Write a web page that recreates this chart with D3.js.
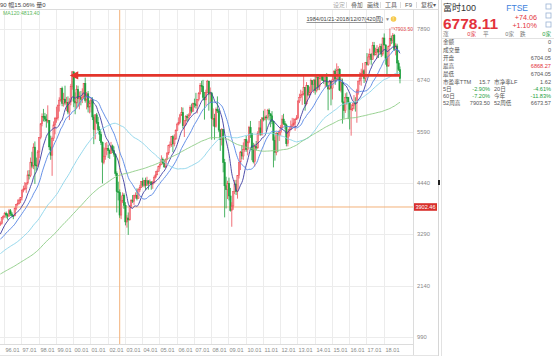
<!DOCTYPE html>
<html><head><meta charset="utf-8">
<script src="https://cdn.jsdelivr.net/npm/d3@7"></script>
<style>
body{margin:0;background:#fff}
svg{display:block}
text{font-family:Arial,"Liberation Sans","Noto Sans CJK SC",sans-serif}
</style></head>
<body><svg id="c" width="554" height="356"></svg>
<script>
// ---- DATA (monthly FTSE 100, Oct 1995 - Dec 2018) ----
// monthly closes before the visible window (Nov 1985 - Sep 1995), used for moving averages
const histClose = [
 1400,1413,
 1435,1544,1668,1660,1602,1649,1558,1641,1532,1594,1632,1679,
 1808,1979,1997,2049,2203,2248,2323,2250,2366,1750,1580,1713,
 1790,1769,1823,1854,1817,1858,1853,1746,1829,1852,1780,1793,
 2052,2002,2069,2119,2114,2151,2297,2387,2299,2142,2276,2423,
 2337,2255,2247,2103,2345,2375,2372,2163,1990,2050,2149,2144,
 2170,2380,2457,2487,2500,2415,2588,2646,2622,2566,2420,2493,
 2571,2562,2440,2655,2708,2522,2400,2313,2553,2658,2778,2847,
 2808,2868,2879,2814,2840,2900,2926,3100,3038,3171,3166,3418,
 3491,3328,3086,3125,2970,2919,3082,3251,3027,3097,3082,3066,
 2991,3009,3137,3216,3319,3315,3463,3477,3508
];
const firstMonth = "1995-10";
const openV = [
 3508,3529,3664,
 3689,3760,3727,3699,3818,3748,3711,3703,3867,3953,3979,4058,
 4119,4276,4308,4313,4437,4621,4604,4907,4818,5244,4842,4831,
 5136,5458,5767,5932,5928,5870,5833,5837,5249,5064,5438,5743,
 5883,5896,6175,6296,6552,6226,6319,6231,6246,6030,6255,6597,
 6930,6269,6233,6540,6327,6359,6313,6365,6672,6294,6438,6142,
 6223,6298,5918,5634,5967,5796,5643,5529,5345,4903,5040,5204,
 5217,5165,5101,5272,5165,5086,4656,4246,4227,3722,4039,4169,
 3940,3567,3656,3613,3926,4048,4031,4157,4161,4091,4287,4342,
 4477,4390,4492,4386,4489,4431,4464,4413,4459,4571,4624,4703,
 4814,4852,4968,4894,4801,4964,5113,5282,5296,5478,5317,5423,
 5619,5760,5792,5965,6023,5723,5833,5928,5906,5961,6129,6049,
 6221,6203,6172,6308,6449,6621,6608,6360,6303,6467,6722,6432,
 6457,5880,5884,5702,6087,6054,5626,5412,5637,4902,4377,4289,
 4434,4150,3830,3926,4244,4418,4249,4608,4909,5134,5045,5191,
 5413,5189,5355,5680,5553,5188,4917,5258,5225,5549,5675,5528,
 5900,5863,5919,5909,6070,5990,5946,5815,5395,5128,5544,5505,
 5572,5682,5872,5768,5738,5321,5571,5635,5711,5742,5783,5867,
 5898,6277,6361,6412,6430,6583,6215,6621,6413,6462,6731,6651,
 6749,6510,6810,6598,6780,6845,6744,6730,6820,6623,6546,6723,
 6566,6749,6947,6773,6961,6984,6521,6696,6248,6062,6361,6356,
 6242,6084,6097,6175,6242,6231,6504,6724,6782,6899,6954,6784,
 7143,7099,7263,7323,7204,7520,7313,7372,7431,7373,7493,7327,
 7688,7534,7232,7057,7509,7678,7637,7749,7432,7510,7128,6980
];
const highV = [
 3580,3680,3720,
 3790,3800,3760,3860,3857,3790,3730,3890,3970,4070,4090,4120,
 4300,4380,4460,4450,4720,4730,5010,5140,5330,5370,5010,5180,
 5460,5780,6000,6100,6010,5980,6180,5850,5500,5480,5820,5920,
 6150,6200,6360,6560,6600,6460,6620,6370,6380,6340,6660,6950,
 6940,6470,6630,6620,6490,6500,6560,6680,6800,6480,6500,6290,
 6340,6360,5970,5980,6010,5920,5710,5590,5370,5240,5340,5360,
 5300,5190,5360,5300,5260,5100,4700,4470,4297,4150,4230,4210,
 4010,3720,3780,3940,4080,4170,4180,4230,4320,4320,4400,4480,
 4560,4510,4560,4580,4500,4520,4480,4490,4610,4710,4740,4830,
 4890,5060,5010,4960,4990,5120,5300,5370,5490,5510,5530,5640,
 5790,5910,5990,6140,6130,5840,5960,5980,6000,6180,6220,6240,
 6330,6460,6310,6480,6680,6730,6750,6480,6530,6750,6730,6580,
 6480,6110,5990,6130,6380,6100,5650,5670,5650,4980,4580,4490,
 4560,4330,4010,4250,4510,4510,4610,4910,5160,5290,5350,5420,
 5500,5390,5720,5830,5560,5340,5320,5380,5600,5830,5870,5910,
 6060,6100,5960,6100,6110,6000,6050,5830,5480,5580,5570,5630,
 5740,5960,5990,5830,5770,5610,5700,5840,5900,5890,5890,5960,
 6290,6440,6530,6500,6880,6590,6700,6630,6600,6780,6740,6760,
 6870,6830,6830,6840,6880,6880,6830,6830,6900,6630,6750,6740,
 6840,6960,7000,7120,7060,7010,6790,6780,6280,6450,6470,6370,
 6260,6210,6240,6410,6360,6550,6730,6920,7000,7130,6990,7145,
 7350,7340,7450,7350,7600,7600,7470,7530,7480,7560,7560,7700,
 7790,7540,7290,7510,7903.5,7740,7800,7780,7570,7560,7190,7050
];
const lowV = [
 3480,3510,3620,
 3660,3650,3620,3680,3700,3690,3630,3700,3830,3930,3960,3990,
 4050,4230,4280,4220,4400,4520,4570,4770,4750,4420,4720,4800,
 5000,5420,5710,5820,5810,5680,5780,5180,4960,4600,5380,5530,
 5790,5840,6040,6260,6160,6150,6180,6050,5980,5850,6180,6530,
 6140,5980,6110,6150,6090,6180,6230,6340,6240,6090,6020,6000,
 6020,5850,5310,5420,5760,5600,5380,5290,4430,4860,4960,5070,
 5000,4980,5090,5110,5030,4600,3780,4050,3660,3630,3990,3860,
 3490,3440,3277,3600,3870,3990,3950,4090,4050,4090,4240,4330,
 4350,4340,4280,4380,4290,4400,4290,4310,4430,4540,4610,4700,
 4760,4840,4860,4780,4770,4950,5070,5230,5250,5130,5260,5410,
 5610,5730,5770,5940,5660,5470,5730,5810,5850,5950,6000,6030,
 6130,6110,6000,6270,6420,6480,6290,5860,6170,6450,6060,6230,
 5410,5710,5410,5680,6010,5580,5160,5280,4680,3670,3870,4080,
 4050,3800,3460,3840,4190,4170,4090,4540,4730,4970,4960,5140,
 5140,5060,5330,5450,4950,4880,4810,5170,5210,5500,5500,5500,
 5820,5840,5600,5860,5840,5690,5760,4790,4940,5060,5130,5380,
 5500,5670,5740,5640,5260,5260,5480,5620,5690,5700,5610,5850,
 5880,6230,6340,6190,6400,6060,6180,6380,6350,6420,6510,6460,
 6420,6470,6520,6520,6760,6730,6660,6580,6590,6070,6530,6180,
 6310,6740,6640,6740,6770,6500,6470,5770,5880,6010,6200,5870,
 5640,5500,6050,6090,6040,5790,6420,6640,6620,6820,6680,6710,
 7070,7070,7200,7090,7200,7280,7300,7230,7240,7370,7260,7280,
 7520,7090,6870,7050,7500,7550,7570,7400,7300,6850,6950,6673
];
const closeV = [
 3529,3664,3689,
 3760,3727,3699,3818,3748,3711,3703,3867,3953,3979,4058,4119,
 4276,4308,4313,4437,4621,4604,4907,4818,5244,4842,4831,5136,
 5458,5767,5932,5928,5870,5833,5837,5249,5064,5438,5743,5883,
 5896,6175,6296,6552,6226,6319,6231,6246,6030,6255,6597,6930,
 6269,6233,6540,6327,6359,6313,6365,6672,6294,6438,6142,6223,
 6298,5918,5634,5967,5796,5643,5529,5345,4903,5040,5204,5217,
 5165,5101,5272,5165,5086,4656,4246,4227,3722,4039,4169,3940,
 3567,3656,3613,3926,4048,4031,4157,4161,4091,4287,4342,4477,
 4390,4492,4386,4489,4431,4464,4413,4459,4571,4624,4703,4814,
 4852,4968,4894,4801,4964,5113,5282,5296,5478,5317,5423,5619,
 5760,5792,5965,6023,5723,5833,5928,5906,5961,6129,6049,6221,
 6203,6172,6308,6449,6621,6608,6360,6303,6467,6722,6432,6457,
 5880,5884,5702,6087,6054,5626,5412,5637,4902,4377,4289,4434,
 4150,3830,3926,4244,4418,4249,4608,4909,5134,5045,5191,5413,
 5189,5355,5680,5553,5188,4917,5258,5225,5549,5675,5528,5900,
 5863,5919,5909,6070,5990,5946,5815,5395,5128,5544,5505,5572,
 5682,5872,5768,5738,5321,5571,5635,5711,5742,5783,5867,5898,
 6277,6361,6412,6430,6583,6215,6621,6413,6462,6731,6651,6749,
 6510,6810,6598,6780,6845,6744,6730,6820,6623,6546,6723,6566,
 6749,6947,6773,6961,6984,6521,6696,6248,6062,6361,6356,6242,
 6084,6097,6175,6242,6231,6504,6724,6782,6899,6954,6784,7143,
 7099,7263,7323,7204,7520,7313,7372,7431,7373,7493,7327,7688,
 7534,7232,7057,7509,7678,7637,7749,7432,7510,7128,6980,6778.11
];
const maPeriods = [10, 20, 60, 120];
const maColors = ["#3a3aa0", "#5585e4", "#8ad4ea", "#8ccc84"];
const xTickLabels = ["96.01","97.01","98.01","99.01","00.01","01.01","02.01","03.01","04.01","05.01","06.01","07.01","08.01","09.01","10.01","11.01","12.01","13.01","14.01","15.01","16.01","17.01","18.01"];
const yTicks = [990, 2140, 3290, 4440, 5590, 6740, 7890];
const crossMonth = "2002-09";
const crossValue = 3902.46;
const resistLevel = 6850;
const resistFrom = "1999-12", resistTo = "2018-12";

const toolbar = ["设定","叠加","画线","工具","F9","复权▾"];
const infoRows = [["金额","0"],["成交量","0"],["开盘","6704.05"],["最高","6868.27"],["最低","6704.05"]];
const statRows = [
  ["市盈率TTM","15.7","市净率LF","1.62"],
  ["5日","-2.90%","20日","-4.61%"],
  ["60日","-7.20%","今年","-11.83%"],
  ["52周高","7903.50","52周低","6673.57"]
];

// ---- DRAW ----
const svg = d3.select("#c");
const parseM = d3.timeParse("%Y-%m");
const parseT = d3.timeParse("%y.%m");
const n = closeV.length;
const start = parseM(firstMonth);
const months = d3.range(n).map(i => d3.timeMonth.offset(start, i));
const x = d3.scaleTime().domain([new Date(1996,0,1), new Date(2018,0,1)]).range([4, 383.5]);
const y = d3.scaleLinear().domain([990, 7890]).range([337, 29]);
const cx = i => x(d3.timeDay.offset(months[i], 15));
const idxOf = s => months.findIndex(m => +m === +parseM(s));

const PR = 413, PT = 10, PB = 344;
const UP = "#ee4b55", DN = "#1d9e3c";

svg.append("rect").attr("width",554).attr("height",356).attr("fill","#fff");
svg.append("defs").append("clipPath").attr("id","clip")
  .append("rect").attr("x",0).attr("y",PT).attr("width",PR).attr("height",PB-PT);

// grid
const g = svg.append("g");
g.selectAll(".vg").data(xTickLabels).join("line")
  .attr("x1", d => Math.round(x(parseT(d)))+0.5).attr("x2", d => Math.round(x(parseT(d)))+0.5)
  .attr("y1", PT).attr("y2", PB).attr("stroke", "#ececec");
g.selectAll(".hg").data(yTicks).join("line")
  .attr("x1", 0).attr("x2", PR).attr("y1", d => Math.round(y(d))+0.5).attr("y2", d => Math.round(y(d))+0.5)
  .attr("stroke", "#ececec");

// frame lines
svg.append("line").attr("x1",0).attr("x2",438).attr("y1",9.5).attr("y2",9.5).attr("stroke","#dcdcdc");
svg.append("line").attr("x1",PR+0.5).attr("x2",PR+0.5).attr("y1",PT).attr("y2",356).attr("stroke","#dcdcdc");
svg.append("line").attr("x1",0).attr("x2",PR).attr("y1",PB+0.5).attr("y2",PB+0.5).attr("stroke","#dcdcdc");
svg.append("line").attr("x1",0).attr("x2",438).attr("y1",355.5).attr("y2",355.5).attr("stroke","#e4e4e4");
svg.append("line").attr("x1",438.5).attr("x2",438.5).attr("y1",0).attr("y2",356).attr("stroke","#d6d6d6");
svg.append("line").attr("x1",441.5).attr("x2",441.5).attr("y1",0).attr("y2",356).attr("stroke","#e2e2e2");
svg.append("rect").attr("x",438).attr("y",180).attr("width",2).attr("height",5).attr("fill","#222");

// x-axis labels
svg.selectAll(".xl").data(xTickLabels).join("text")
  .attr("x", d => Math.round(x(parseT(d)))+1.5).attr("y", 352)
  .attr("font-size", 5.6).attr("fill", "#888").text(d => d);
// y-axis labels (right)
svg.selectAll(".yl").data(yTicks).join("text")
  .attr("x", 417).attr("y", d => y(d)+2).attr("font-size", 5.8).attr("fill", "#888").text(d => d);

const plot = svg.append("g").attr("clip-path","url(#clip)");

// crosshair
const ci = idxOf(crossMonth);
plot.append("line").attr("x1", cx(ci)).attr("x2", cx(ci)).attr("y1", PT).attr("y2", PB)
  .attr("stroke", "#f3b27a").attr("stroke-width", 1);
plot.append("line").attr("x1", 0).attr("x2", PR).attr("y1", y(crossValue)).attr("y2", y(crossValue))
  .attr("stroke", "#f3b27a").attr("stroke-width", 1);

// candles
const cg = plot.append("g");
d3.range(n).forEach(i => {
  const o = openV[i], c = closeV[i], up = c >= o, col = up ? UP : DN;
  cg.append("line").attr("x1", cx(i)).attr("x2", cx(i)).attr("y1", y(highV[i])).attr("y2", y(lowV[i]))
    .attr("stroke", col).attr("stroke-width", 0.8);
  const top = y(Math.max(o,c)), bot = y(Math.min(o,c));
  cg.append("rect").attr("x", cx(i)-0.7).attr("width", 1.4).attr("y", top).attr("height", Math.max(0.8, bot-top))
    .attr("fill", up ? "#f7a0a5" : DN).attr("stroke", col).attr("stroke-width", 0.5);
});

// moving averages
const allClose = histClose.concat(closeV);
const off = histClose.length;
maPeriods.forEach((p, k) => {
  const vals = d3.range(n).map(i => {
    const j = i + off;
    return j - p + 1 >= 0 ? d3.mean(allClose.slice(j - p + 1, j + 1)) : null;
  });
  plot.append("path").datum(vals)
    .attr("d", d3.line().defined(v => v != null).x((v,i) => cx(i)).y(v => y(v)).curve(d3.curveMonotoneX))
    .attr("fill","none").attr("stroke", maColors[k]).attr("stroke-width", 0.9);
});

// resistance arrow
const ra = idxOf(resistFrom), rb = idxOf(resistTo), ry = y(resistLevel);
plot.append("line").attr("x1", cx(ra)+4).attr("x2", cx(rb)).attr("y1", ry).attr("y2", ry)
  .attr("stroke", "#e3342b").attr("stroke-width", 2.8);
plot.append("path").attr("d", `M${cx(ra)-2.5},${ry} L${cx(ra)+6},${ry-4.2} L${cx(ra)+6},${ry+4.2} Z`).attr("fill","#e3342b");

// peak label
const pk = d3.maxIndex(highV);
svg.append("path").attr("d", `M${cx(pk)+1},${y(highV[pk])-0.5} H${cx(pk)+4.5} V${y(highV[pk])+1.5}`)
  .attr("fill","none").attr("stroke","#e05050").attr("stroke-width",0.6);
svg.append("text").attr("x", cx(pk)+5).attr("y", y(highV[pk])+2.5).attr("font-size",5)
  .attr("fill","#e04848").text(d3.format(".2f")(highV[pk]));

// cross value tag
svg.append("rect").attr("x",414).attr("y",y(crossValue)-3.8).attr("width",23).attr("height",7.6).attr("fill","#d8302c");
svg.append("text").attr("x",425.5).attr("y",y(crossValue)+2).attr("text-anchor","middle")
  .attr("font-size",5.6).attr("fill","#fff").text(d3.format(".2f")(crossValue));

// header texts
svg.append("text").attr("x",0).attr("y",7).attr("font-size",6).attr("fill","#444")
  .text("90  幅15.06%  量0");
svg.append("text").attr("x",3).attr("y",15).attr("font-size",5.2).attr("fill","#5cb85c")
  .text("MA120:4813.40");
const tbx = [333, 351, 367, 385, 405, 421];
toolbar.forEach((t,i) => {
  svg.append("text").attr("x",tbx[i]).attr("y",7).attr("font-size",6).attr("fill", i===0?"#aaa":"#555").text(t);
  if (i>0) svg.append("line").attr("x1",tbx[i]-4.5).attr("x2",tbx[i]-4.5).attr("y1",2).attr("y2",8).attr("stroke","#ddd");
});
svg.append("text").attr("x",383).attr("y",21).attr("text-anchor","end").attr("font-size",5.6).attr("fill","#444")
  .attr("text-decoration","underline").text("1984/01/21-2018/12/07(420周)");
svg.append("text").attr("x",385).attr("y",21).attr("font-size",5).attr("fill","#888").text("▼");
svg.append("circle").attr("cx",393.5).attr("cy",19).attr("r",2.8).attr("fill","#f6c94a");
svg.append("text").attr("x",393.5).attr("y",21).attr("text-anchor","middle").attr("font-size",4.5).attr("fill","#fff").text("!");

// right panel
const rp = svg.append("g");
rp.append("text").attr("x",443).attr("y",11).attr("font-size",9).attr("fill","#333").text("富时100");
rp.append("text").attr("x",528).attr("y",11).attr("text-anchor","end").attr("font-size",8.5).attr("fill","#3d7fdc").text("FTSE");
[4,13,22].forEach(yy => rp.append("rect").attr("x",546).attr("y",yy).attr("width",5).attr("height",5)
  .attr("fill","none").attr("stroke","#9bb3d4").attr("stroke-width",0.8));
rp.append("text").attr("x",443).attr("y",28.5).attr("font-size",15.5).attr("font-weight","bold").attr("fill","#e3323c").text("6778.11");
rp.append("text").attr("x",537).attr("y",19.5).attr("text-anchor","end").attr("font-size",7.2).attr("fill","#e3323c").text("+74.06");
rp.append("text").attr("x",537).attr("y",28).attr("text-anchor","end").attr("font-size",7.2).attr("fill","#e3323c").text("+1.10%");
const r1y = 35.5;
rp.append("text").attr("x",443).attr("y",r1y).attr("font-size",5.6).attr("fill","#777").text("涨");
rp.append("text").attr("x",476).attr("y",r1y).attr("text-anchor","end").attr("font-size",5.6).attr("fill","#e3323c").text("0家");
rp.append("text").attr("x",483).attr("y",r1y).attr("font-size",5.6).attr("fill","#777").text("平");
rp.append("text").attr("x",514).attr("y",r1y).attr("text-anchor","end").attr("font-size",5.6).attr("fill","#777").text("0家");
rp.append("text").attr("x",520).attr("y",r1y).attr("font-size",5.6).attr("fill","#777").text("跌");
rp.append("text").attr("x",551).attr("y",r1y).attr("text-anchor","end").attr("font-size",5.6).attr("fill","#1d9e3c").text("0家");
rp.append("line").attr("x1",442).attr("x2",554).attr("y1",38.5).attr("y2",38.5).attr("stroke","#e2e2e2");
infoRows.forEach((r,i) => {
  const yy = 43.5 + i*8;
  rp.append("text").attr("x",443).attr("y",yy).attr("font-size",5.6).attr("fill","#555").text(r[0]);
  rp.append("text").attr("x",551).attr("y",yy).attr("text-anchor","end").attr("font-size",5.6)
    .attr("fill", r[0]==="最高" ? "#e3323c" : "#555").text(r[1]);
});
const colr = v => v.startsWith("-") ? "#1d9e3c" : "#555";
statRows.forEach((r,i) => {
  const yy = 84 + i*7;
  rp.append("text").attr("x",443).attr("y",yy).attr("font-size",5.6).attr("fill","#555").text(r[0]);
  rp.append("text").attr("x",490).attr("y",yy).attr("text-anchor","end").attr("font-size",5.6).attr("fill",colr(r[1])).text(r[1]);
  rp.append("text").attr("x",494).attr("y",yy).attr("font-size",5.6).attr("fill","#555").text(r[2]);
  rp.append("text").attr("x",551).attr("y",yy).attr("text-anchor","end").attr("font-size",5.6).attr("fill",colr(r[3])).text(r[3]);
});
</script></body></html>
